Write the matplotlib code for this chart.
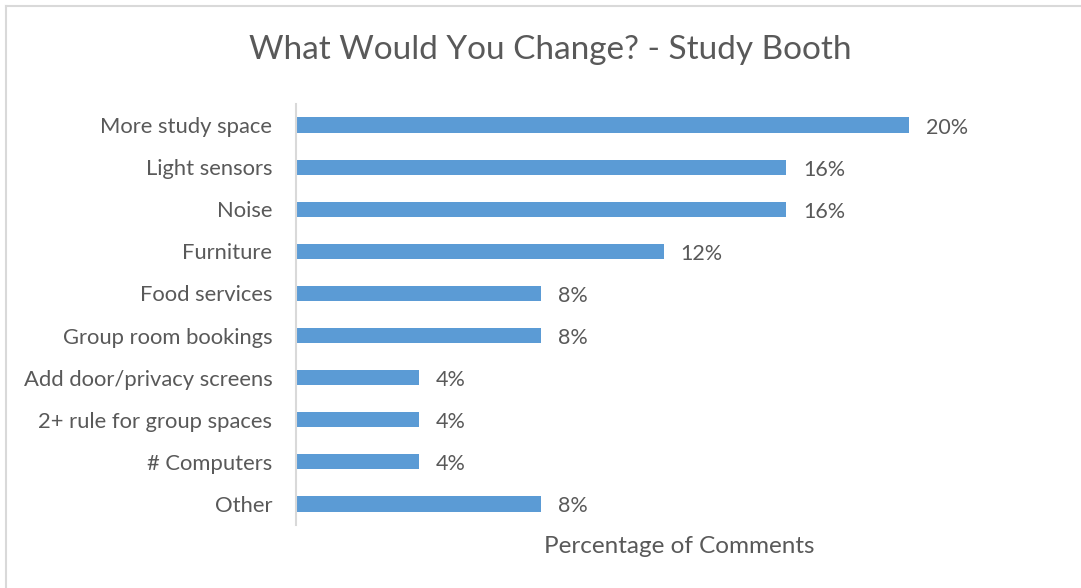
import matplotlib.pyplot as plt
from matplotlib.lines import Line2D

categories = ["More study space", "Light sensors", "Noise", "Furniture", "Food services",
              "Group room bookings", "Add door/privacy screens", "2+ rule for group spaces",
              "# Computers", "Other"]
values = [0.20, 0.16, 0.16, 0.12, 0.08, 0.08, 0.04, 0.04, 0.04, 0.08]

plt.rcParams['font.family'] = ['Lato', 'DejaVu Sans']
txt = "#595959"
bar_col = "#5B9BD5"
grid_col = "#D9D9D9"

fig = plt.figure(figsize=(10.81, 5.88), dpi=100)
ax = fig.add_axes([296/1081, 1-525/588, 766/1081, 421/588])

y = list(range(len(categories)))
ax.barh(y, values, height=0.36, color=bar_col)
ax.set_ylim(len(categories) - 0.5, -0.5)
ax.set_xlim(0, 0.25)

for yi, v in zip(y, values):
    ax.text(v + 0.0055, yi + 0.06, f"{v:.0%}", va="center", ha="left", fontsize=15.5, color=txt)

ax.set_yticks(y)
ax.set_yticklabels(categories, fontsize=15.8, color=txt)
ax.tick_params(axis="y", length=0, pad=17)
ax.set_xticks([])
for s in ["top", "right", "bottom"]:
    ax.spines[s].set_visible(False)
ax.spines["left"].set_color(grid_col)
ax.spines["left"].set_linewidth(1.5)

ax.set_xlabel("Percentage of Comments", fontsize=17.5, color=txt, labelpad=8)
fig.text(550/1081, 1-50/588, "What Would You Change? - Study Booth", ha="center", va="center",
         fontsize=24, color=txt)

# chart frame
x0, y0 = 6/1081, 1-6/588
fig.add_artist(Line2D([x0, x0], [0, y0], color=grid_col, lw=1.5, transform=fig.transFigure))
fig.add_artist(Line2D([x0, 1], [y0, y0], color=grid_col, lw=1.5, transform=fig.transFigure))

fig.savefig("out.png", dpi=100)
